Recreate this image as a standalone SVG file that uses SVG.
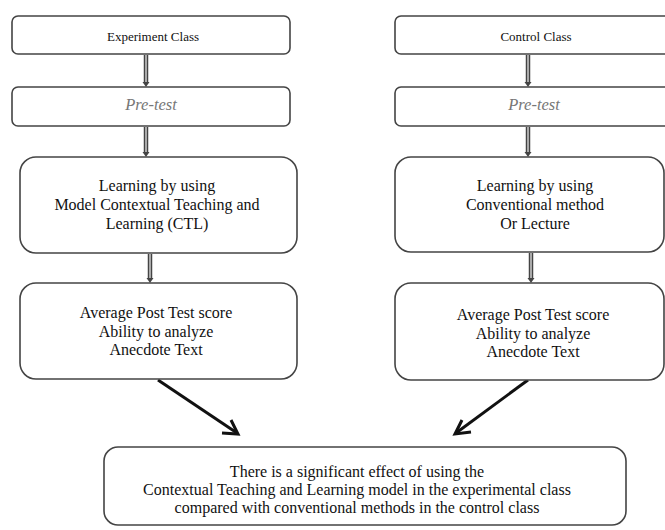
<svg xmlns="http://www.w3.org/2000/svg" width="665" height="530" viewBox="0 0 665 530">
<style>
.box{fill:#fff;stroke:#444;stroke-width:1.6}
.t{font-family:"Liberation Serif","Times New Roman",serif;font-size:16px;fill:#111;text-anchor:middle}
.s{font-size:13px}
.pre{font-style:italic;fill:#777;font-size:16.5px}
.vo{stroke:#444;stroke-width:4.5;fill:none}
.vi{stroke:#aaa;stroke-width:2;fill:none}
.va{fill:#444}
.d{stroke:#111;stroke-width:3;fill:none}
</style>
<g id="connectors">
<g id="c1"><line class="vo" x1="146" y1="55" x2="146" y2="83"/><line class="vi" x1="146" y1="55" x2="146" y2="83"/><path class="va" d="M142.5,82 L149.5,82 L146,87 Z"/></g>
<g id="c2"><line class="vo" x1="146" y1="127" x2="146" y2="153"/><line class="vi" x1="146" y1="127" x2="146" y2="153"/><path class="va" d="M142.5,152 L149.5,152 L146,157 Z"/></g>
<g id="c3"><line class="vo" x1="150" y1="254" x2="150" y2="279"/><line class="vi" x1="150" y1="254" x2="150" y2="279"/><path class="va" d="M146.5,278 L153.5,278 L150,283 Z"/></g>
<g id="c4"><line class="vo" x1="528" y1="55" x2="528" y2="83"/><line class="vi" x1="528" y1="55" x2="528" y2="83"/><path class="va" d="M524.5,82 L531.5,82 L528,87 Z"/></g>
<g id="c5"><line class="vo" x1="528" y1="127" x2="528" y2="153"/><line class="vi" x1="528" y1="127" x2="528" y2="153"/><path class="va" d="M524.5,152 L531.5,152 L528,157 Z"/></g>
<g id="c6"><line class="vo" x1="531" y1="253" x2="531" y2="279"/><line class="vi" x1="531" y1="253" x2="531" y2="279"/><path class="va" d="M527.5,278 L534.5,278 L531,283 Z"/></g>
<g id="c7"><line class="d" x1="158" y1="380" x2="237" y2="433"/><path class="d" d="M222,433 L238,434 L231,420" stroke-linejoin="miter"/></g>
<g id="c8"><line class="d" x1="528" y1="380" x2="456" y2="433"/><path class="d" d="M462,420 L455,434 L471,432" stroke-linejoin="miter"/></g>
</g>
<g id="n1"><rect class="box" x="12" y="16" width="278" height="38" rx="6"/><text class="t s" x="153" y="41">Experiment Class</text></g>
<g id="n2"><rect class="box" x="12" y="87" width="278" height="39" rx="6"/><text class="t pre" x="151" y="110">Pre-test</text></g>
<g id="n3"><rect class="box" x="20" y="157" width="277" height="96" rx="16"/><text class="t" x="157" y="191">Learning by using</text><text class="t" x="157" y="210">Model Contextual Teaching and</text><text class="t" x="157" y="229">Learning (CTL)</text></g>
<g id="n4"><rect class="box" x="20" y="283" width="277" height="96" rx="16"/><text class="t" x="156" y="318">Average Post Test score</text><text class="t" x="156" y="337">Ability to analyze</text><text class="t" x="156" y="355">Anecdote Text</text></g>
<g id="n5"><rect class="box" x="395" y="16" width="280" height="38" rx="6"/><text class="t s" x="536" y="41">Control Class</text></g>
<g id="n6"><rect class="box" x="395" y="87" width="280" height="39" rx="6"/><text class="t pre" x="534" y="110">Pre-test</text></g>
<g id="n7"><rect class="box" x="395" y="157" width="269" height="95" rx="16"/><text class="t" x="535" y="191">Learning by using</text><text class="t" x="535" y="210">Conventional method</text><text class="t" x="535" y="229">Or Lecture</text></g>
<g id="n8"><rect class="box" x="395" y="283" width="269" height="97" rx="16"/><text class="t" x="533" y="320">Average Post Test score</text><text class="t" x="533" y="339">Ability to analyze</text><text class="t" x="533" y="357">Anecdote Text</text></g>
<g id="n9"><rect class="box" x="104" y="447" width="522" height="78" rx="14"/><text class="t" x="357" y="477">There is a significant effect of using the</text><text class="t" x="357" y="495">Contextual Teaching and Learning model in the experimental class</text><text class="t" x="357" y="513">compared with conventional methods in the control class</text></g>
</svg>
